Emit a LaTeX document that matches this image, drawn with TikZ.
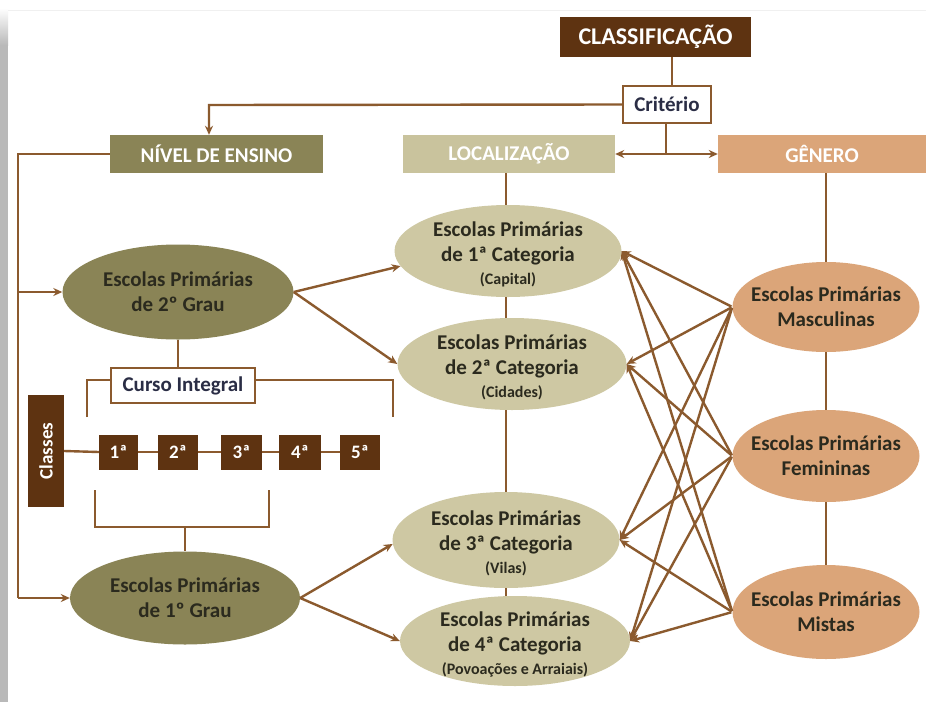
\documentclass[tikz,border=0pt]{standalone}
\usepackage{fontspec}
\setmainfont{Carlito}
\usetikzlibrary{shapes.geometric,arrows.meta}
\definecolor{dbrown}{HTML}{5E3311}
\definecolor{lbrown}{HTML}{8B5A2E}
\definecolor{olive}{HTML}{8A8456}
\definecolor{khaki}{HTML}{CEC8A3}
\definecolor{khakihead}{HTML}{C9C39D}
\definecolor{tan}{HTML}{DBA579}
\definecolor{txtdark}{HTML}{2B2A1E}
\definecolor{txtnavy}{HTML}{2A2D45}
\tikzset{
  conn/.style={draw=lbrown,line width=2.4pt},
  arr/.style={conn,-{Stealth[length=9pt,width=8pt]}},
  header/.style={rectangle,inner sep=0pt,text=white,font=\bfseries\fontsize{21}{24}\selectfont},
  darkbox/.style={rectangle,fill=dbrown,inner sep=0pt,text=white,font=\bfseries},
  whitebox/.style={rectangle,fill=white,draw=lbrown,line width=2.4pt,inner sep=0pt,text=txtnavy,font=\bfseries},
  ell/.style={ellipse,inner sep=0pt},
  elltext/.style={inner sep=0pt,text=txtdark,align=center,font=\bfseries\fontsize{21}{25}\selectfont},
  numbox/.style={darkbox,minimum height=35,font=\bfseries\fontsize{19}{22}\selectfont},
}
\newcommand{\sm}[1]{{\fontsize{16}{18}\selectfont #1}}
\begin{document}
\begin{tikzpicture}[x=1pt,y=-1pt]
\useasboundingbox (0,0) rectangle (926,702);
\fill[white] (0,0) rectangle (926,702);
% left gray strip
\fill[gray!55] (0,45) rectangle (8,702);
\shade[top color=white,bottom color=gray!55] (0,8) rectangle (8,45);
\draw[gray!12,line width=0.8pt] (8,10) -- (926,10);

% headers
\node[darkbox,minimum width=191,minimum height=40,font=\bfseries\fontsize{24}{28}\selectfont] (cls) at (655.5,36.5) {CLASSIFICAÇÃO};
\node[whitebox,minimum width=88,minimum height=37,font=\bfseries\fontsize{21}{24}\selectfont] (crit) at (667,104.5) {Critério};
\node[header,fill=olive,minimum width=213,minimum height=38] (niv) at (216.5,154) {NÍVEL DE ENSINO};
\node[header,fill=khakihead,minimum width=212,minimum height=38] (loc) at (509,154) {LOCALIZAÇÃO};
\node[header,fill=tan,minimum width=208,minimum height=38] (gen) at (822,154) {GÊNERO};

% nivel ellipses
\node[ell,fill=olive,minimum width=231,minimum height=95] (g2) at (178,292) {};
\node[elltext] (g2t) at (g2) {Escolas Primárias\\de 2º Grau};
\node[ell,fill=olive,minimum width=230,minimum height=93] (g1) at (185,598) {};
\node[elltext] (g1t) at (g1) {Escolas Primárias\\de 1º Grau};

% localizacao ellipses
\node[ell,fill=khaki,minimum width=227,minimum height=92] (c1) at (508,251) {};
\node[elltext] (c1t) at ([yshift=-3]c1) {Escolas Primárias\\de 1ª Categoria\\[-2pt]\sm{(Capital)}};
\node[ell,fill=khaki,minimum width=229,minimum height=92] (c2) at (512,364) {};
\node[elltext] (c2t) at ([yshift=-3]c2) {Escolas Primárias\\de 2ª Categoria\\[-2pt]\sm{(Cidades)}};
\node[ell,fill=khaki,minimum width=227,minimum height=96] (c3) at (506,540) {};
\node[elltext] (c3t) at ([yshift=-3]c3) {Escolas Primárias\\de 3ª Categoria\\[-2pt]\sm{(Vilas)}};
\node[ell,fill=khaki,minimum width=230,minimum height=90] (c4) at (515,641) {};
\node[elltext] (c4t) at ([yshift=-3]c4) {Escolas Primárias\\de 4ª Categoria\\[-2pt]\sm{(Povoações e Arraiais)}};

% genero ellipses
\node[ell,fill=tan,minimum width=187,minimum height=90] (ma) at (826,307) {};
\node[elltext] (mat) at (ma) {Escolas Primárias\\Masculinas};
\node[ell,fill=tan,minimum width=187,minimum height=92] (fe) at (826,456) {};
\node[elltext] (fet) at (fe) {Escolas Primárias\\Femininas};
\node[ell,fill=tan,minimum width=187,minimum height=94] (mi) at (826,612) {};
\node[elltext] (mit) at (mi) {Escolas Primárias\\Mistas};

% curso integral and classes
\node[whitebox,minimum width=144,minimum height=35,font=\bfseries\fontsize{21}{24}\selectfont] (ci) at (183,385.5) {Curso Integral};
\node[darkbox,minimum width=112,minimum height=36,rotate=90,font=\bfseries\fontsize{19}{22}\selectfont] (cl) at (46,451) {Classes};
\node[numbox,minimum width=39] (k1) at (118.5,452) {1ª};
\node[numbox,minimum width=40] (k2) at (178,452) {2ª};
\node[numbox,minimum width=41] (k3) at (241.5,452) {3ª};
\node[numbox,minimum width=42] (k4) at (300,452) {4ª};
\node[numbox,minimum width=40] (k5) at (360,452) {5ª};

% coordinates
\coordinate (tl) at (18,154);
\coordinate (b2) at (18,292);
\coordinate (b1) at (18,598);
\coordinate (kv) at (209,105);
\coordinate (cj) at (666,154);
\coordinate (ul) at (87,380);
\coordinate (ulb) at (87,417);
\coordinate (ur) at (393,380);
\coordinate (urb) at (393,417);
\coordinate (ll) at (95,490);
\coordinate (llb) at (95,527);
\coordinate (lr) at (269,490);
\coordinate (lrb) at (269,527);
\coordinate (lm) at (185,527);

% connectors top
\draw[conn] (cls.south -| 672,0) -- (crit.north -| 672,0);
\draw[arr] (crit.west) -- (kv) -- (kv |- niv.north);
\draw[conn] (crit.south -| cj) -- (cj);
\draw[conn,{Stealth[length=9pt,width=8pt]}-{Stealth[length=9pt,width=8pt]}] (loc.east) -- (gen.west);

% left spine
\draw[conn] (niv.west) -- (tl) -- (b1);
\draw[arr] (b1) -- (g1.west);
\draw[arr] (b2) -- (g2.west);

% vertical spines
\draw[conn] (loc.south -| 506,0) -- (c1.north -| 506,0);
\draw[conn] (c1.south -| 506,0) -- (c2.north -| 506,0);
\draw[conn] (c2.south -| 506,0) -- (c3.north -| 506,0);
\draw[conn] (c3.south -| 506,0) -- (c4.north -| 506,0);
\draw[conn] (gen.south -| ma.north) -- (ma.north);
\draw[conn] (ma.south) -- (fe.north);
\draw[conn] (fe.south) -- (mi.north);

% grau to categoria
\draw[arr] (g2.east) -- (c1.188);
\draw[arr] (g2.east) -- (c2.west);
\draw[arr] (g1.east) -- (c3.182);
\draw[arr] (g1.east) -- (c4.west);

% curso integral brackets
\draw[conn] (g2.south) -- (ci.north -| g2.south);
\draw[conn] (ulb) -- (ul) -- (ci.west |- ul);
\draw[conn] (ci.east |- ur) -- (ur) -- (urb);
\draw[conn] (cl.south) -- (k1.west);
\draw[conn] (k1) -- (k2) -- (k3) -- (k4) -- (k5);
\draw[conn] (ll) -- (llb) -- (lrb) -- (lr);
\draw[conn] (lm) -- (g1.north -| lm);

% genero to categoria
\foreach \s in {ma,fe,mi}{
  \foreach \t in {c1,c2,c3,c4}{
    \draw[arr,shorten <=1pt] (\s.west) -- (\t.east);
  }
}
\end{tikzpicture}
\end{document}
